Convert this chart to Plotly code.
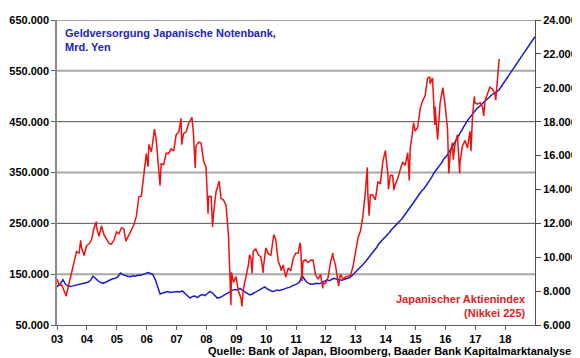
import pandas as pd
import plotly.graph_objects as go

# ---------------- data ----------------
# Monetary base Bank of Japan (Mrd. Yen), monthly from Jan 2003 to Oct 2017
blue_vals_k = [
    125, 132, 139, 130, 127, 126, 127, 128, 130, 131, 132, 133,   # 2003
    134, 138, 146, 142, 137, 134, 132, 134, 137, 139, 141, 142,   # 2004
    145, 152, 149, 147, 146, 145, 147, 146, 148, 148, 149, 151,   # 2005
    153, 152, 150, 140, 126, 111, 113, 115, 116, 114, 115, 116,   # 2006
    116, 115, 117, 112, 108, 103, 106, 107, 104, 108, 110, 108,   # 2007
    112, 116, 113, 108, 103, 104, 107, 110, 112, 116, 118, 120,   # 2008
    119, 122, 118, 115, 112, 109, 111, 114, 117, 119, 122, 125,   # 2009
    121, 118, 116, 117, 119, 118, 119, 121, 123, 124, 127, 129,   # 2010
    131, 135, 148, 140, 134, 131, 130, 131, 132, 131, 133, 136,   # 2011
    139, 137, 140, 142, 140, 139, 138, 140, 141, 143, 147, 152,   # 2012
    157, 161, 166, 172, 178, 184, 189, 195, 203, 211, 216, 222,   # 2013
    226, 232, 238, 243, 249, 253, 258, 265, 272, 280, 285, 292,   # 2014
    299, 306, 313, 318, 325, 332, 340, 349, 355, 362, 369, 377,   # 2015
    382, 390, 398, 407, 416, 425, 434, 442, 449, 456, 463, 470,   # 2016
    475, 479, 484, 489, 493, 497, 502, 505, 508, 512,             # 2017
]
blue_start = "2003-01-01"
blue_proj_date = "2018-12-31"
blue_proj_val_k = 617

# Nikkei 225, month-end values Jan 2003 .. Sep 2017
red_month_vals = [
    8340, 8360, 7970, 7830, 8420, 9080, 9560, 10340, 10220, 10560, 10100, 10680,
    10780, 11040, 11720, 11760, 11240, 11860, 11330, 11080, 10820, 10770, 11030, 11490,
    11390, 11740, 11670, 11010, 11280, 11580, 11900, 12410, 13570, 13610, 14870, 16110,
    16650, 16210, 17060, 16910, 15470, 15510, 15460, 16140, 16130, 16400, 16270, 17230,
    17380, 17600, 17290, 17400, 17880, 18140, 17250, 16570, 16790, 16740, 15680, 15310,
    13590, 13600, 12530, 13850, 14340, 13480, 13380, 13070, 11260, 8580, 8510, 8860,
    7990, 7570, 8110, 8830, 9520, 9960, 10360, 10490, 10130, 10030, 9350, 10550,
    10200, 10130, 11090, 11060, 9770, 9380, 9540, 8820, 9370, 9200, 9940, 10230,
    10240, 10620, 9760, 9850, 9690, 9820, 9830, 8960, 8700, 8990, 8430, 8460,
    8800, 9720, 10080, 9520, 8540, 9010, 8700, 8840, 8870, 8930, 9450, 10400,
    11140, 11560, 12400, 13860, 13770, 13680, 13670, 13390, 14460, 14330, 15660, 16290,
    14910, 14840, 14830, 14300, 14630, 15160, 15620, 15420, 16170, 16410, 17460, 17450,
    17670, 18800, 19210, 19520, 20560, 20240, 20590, 18890, 17390, 19080, 19750, 19030,
    17520, 16030, 16760, 16670, 17230, 15580, 16570, 16890, 16450, 17430, 18310, 19110,
    19040, 19120, 18910, 19200, 19650, 20030, 19930, 19650, 20360,
]
# intra-month readings (weekly extremes)
red_extra_dates = [
    "2003-01-02", "2003-04-25", "2003-10-17", "2004-04-26", "2005-04-22",
    "2006-01-18", "2006-04-07", "2006-06-14", "2007-02-26", "2007-03-05",
    "2007-07-09", "2007-08-17", "2008-01-22", "2008-03-17", "2008-06-06",
    "2008-10-27", "2008-11-04", "2009-03-10", "2009-06-12", "2009-07-13",
    "2009-11-27", "2010-04-05", "2010-07-02", "2011-02-21", "2011-03-15",
    "2011-11-25", "2012-03-27", "2012-06-04", "2013-05-22", "2013-06-13",
    "2014-02-04", "2014-04-11", "2014-10-17", "2014-12-08", "2015-06-24",
    "2015-08-25", "2015-09-29", "2015-12-01", "2016-02-12", "2016-04-07",
    "2016-06-24", "2016-11-09", "2016-12-21", "2017-04-14", "2017-09-08",
    "2017-10-20",
]
red_extra_vals = [
    8700, 7700, 11000, 12100, 10950,
    15340, 17560, 14220, 18200, 16640,
    18260, 15270, 12570, 11790, 14490,
    7160, 9110, 7090, 10140, 9050,
    9080, 11340, 9200, 10860, 8600,
    8160, 10250, 8300, 15300, 12450,
    14000, 13960, 14530, 17940, 20650,
    17800, 16930, 20010, 14950, 15750,
    14950, 16250, 19490, 18340, 19270,
    21700,
]

left_ticks = [50000, 150000, 250000, 350000, 450000, 550000, 650000]
dark_grid = [250000, 450000, 650000]
light_grid = [150000, 350000, 550000]
right_ticks = list(range(6000, 24001, 2000))
year_ticks = [f"{y}-01-01" for y in range(2003, 2019)]
year_labels = [f"{y % 100:02d}" for y in range(2003, 2019)]

# ---------------- build series ----------------
blue_dates = list(pd.date_range(blue_start, periods=len(blue_vals_k), freq="MS") + pd.Timedelta(days=14))
blue_dates = [pd.Timestamp(blue_start)] + blue_dates[1:] + [pd.Timestamp(blue_proj_date)]
blue_vals = [v * 1000 for v in blue_vals_k] + [blue_proj_val_k * 1000]

red_m_dates = pd.date_range("2003-01-01", periods=len(red_month_vals), freq="MS") + pd.Timedelta(days=27)
red_df = pd.concat([
    pd.DataFrame({"d": red_m_dates, "v": red_month_vals}),
    pd.DataFrame({"d": pd.to_datetime(red_extra_dates), "v": red_extra_vals}),
]).sort_values("d")

BLUE = "#1a1acc"
RED = "#ee1111"
FONT = "Liberation Sans, Arial, sans-serif"

fig = go.Figure()
fig.add_trace(go.Scatter(x=blue_dates, y=blue_vals, mode="lines",
                         line=dict(color=BLUE, width=1.5), yaxis="y", showlegend=False))
fig.add_trace(go.Scatter(x=red_df["d"], y=red_df["v"], mode="lines",
                         line=dict(color=RED, width=1.5), yaxis="y2", showlegend=False))

shapes = []
for g in dark_grid:
    shapes.append(dict(type="line", xref="paper", x0=0, x1=1, yref="y", y0=g, y1=g,
                       line=dict(color="#505050", width=1), layer="below"))
for g in light_grid:
    shapes.append(dict(type="line", xref="paper", x0=0, x1=1, yref="y", y0=g, y1=g,
                       line=dict(color="#a8a8a8", width=2), layer="below"))

tickfont = dict(family=FONT, size=11, color="#000000", weight="bold")

# the page body adds an 8px offset; figure is sized/margined to compensate
fig.update_layout(
    width=572, height=350,
    margin=dict(l=49, r=45, t=12, b=33, autoexpand=False),
    paper_bgcolor="white", plot_bgcolor="white",
    separators=",.",
    shapes=shapes,
    xaxis=dict(type="date", range=["2003-01-01", "2019-01-01"],
               tickvals=year_ticks, ticktext=year_labels, tickfont=tickfont,
               showgrid=False, zeroline=False, showline=True, linecolor="#606060", linewidth=1,
               ticks="outside", ticklen=4, tickcolor="#606060"),
    yaxis=dict(range=[50000, 650000], tickvals=left_ticks, tickformat=",d",
               tickfont=tickfont, showgrid=False, zeroline=False,
               showline=True, linecolor="#8a8a8a", linewidth=1.5,
               ticks="outside", ticklen=4, tickcolor="#606060"),
    yaxis2=dict(range=[6000, 24000], tickvals=right_ticks, tickformat=",d",
                overlaying="y", side="right", tickfont=tickfont,
                showgrid=False, zeroline=False, showline=True, linecolor="#505050",
                linewidth=1, ticks="outside", ticklen=5, tickcolor="#505050"),
    annotations=[
        dict(text="Geldversorgung Japanische Notenbank,<br>Mrd. Yen", xref="paper", yref="paper",
             x=0.012, y=0.985, xanchor="left", yanchor="top", align="left", showarrow=False,
             font=dict(family=FONT, size=11, color="#2222bb", weight="bold")),
        dict(text="Japanischer Aktienindex<br>(Nikkei 225)", xref="paper", yref="paper",
             x=0.985, y=0.012, xanchor="right", yanchor="bottom", align="right", showarrow=False,
             font=dict(family=FONT, size=11, color="#dd2222", weight="bold")),
        dict(text="Quelle: Bank of Japan, Bloomberg, Baader Bank Kapitalmarktanalyse",
             xref="paper", yref="paper", x=1.08, y=-0.085, xanchor="right", yanchor="middle",
             showarrow=False, font=dict(family=FONT, size=11, color="#000000", weight="bold")),
    ],
)

fig.write_html("out.html")
